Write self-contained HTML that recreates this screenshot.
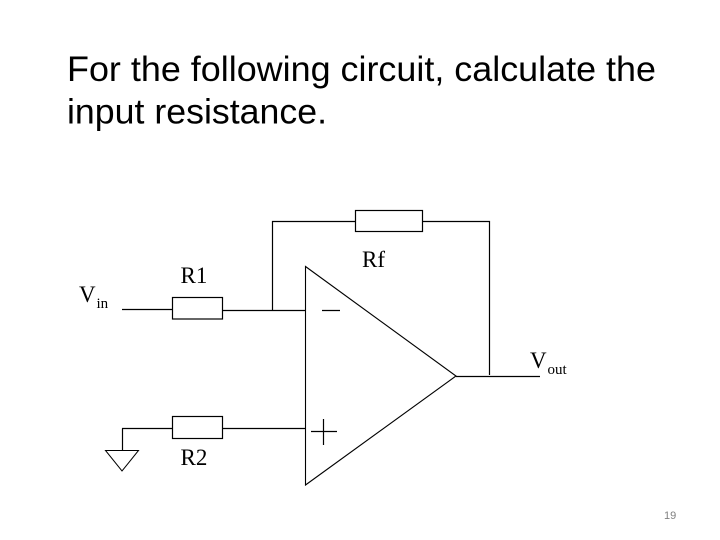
<!DOCTYPE html>
<html>
<head>
<meta charset="utf-8">
<style>
html,body{margin:0;padding:0;background:#fff}
svg{display:block}
.t{font-family:"Liberation Sans",sans-serif;font-size:35px;fill:#000}
.s{font-family:"Liberation Serif",serif;fill:#000}
</style>
</head>
<body>
<svg width="720" height="540" viewBox="0 0 720 540" xmlns="http://www.w3.org/2000/svg">
<rect width="720" height="540" fill="#fff"/>
<text class="t" x="67" y="81" textLength="589" lengthAdjust="spacingAndGlyphs">For the following circuit, calculate the</text>
<text class="t" x="67" y="123.5" textLength="260" lengthAdjust="spacingAndGlyphs">input resistance.</text>
<g fill="none" stroke="#000" stroke-width="1.2">
<polygon points="305.5,266.5 456,376 305.5,485" stroke-width="1.1"/>
<rect x="172.5" y="297.5" width="50" height="21.5"/>
<rect x="172.5" y="416.5" width="50" height="22"/>
<rect x="355.5" y="210.5" width="67" height="21"/>
<polygon points="105.5,450.5 138.5,450.5 122,471" stroke-width="1"/>
<path d="M122 309.5H172.5M222.5 310.5H305.5M272.5 310.5V221.5H355.5M422.5 221.5H489.5V375M456 376.5H540M122 428.5H172.5M222.5 428.5H305.5M122.5 428.5V450.5M322 310.5H340M311 431.5H337M323.5 419V445"/>
</g>
<text class="s" x="180.5" y="283" font-size="23">R1</text>
<text class="s" x="180.5" y="465" font-size="23">R2</text>
<text class="s" x="362" y="267" font-size="23">Rf</text>
<text class="s" x="79" y="302" font-size="23">V</text>
<text class="s" x="96.5" y="308" font-size="15">in</text>
<text class="s" x="530" y="368" font-size="23">V</text>
<text class="s" x="547.5" y="374" font-size="15">out</text>
<text x="664" y="519" font-family="Liberation Sans, sans-serif" font-size="11" fill="#808080">19</text>
</svg>
</body>
</html>
